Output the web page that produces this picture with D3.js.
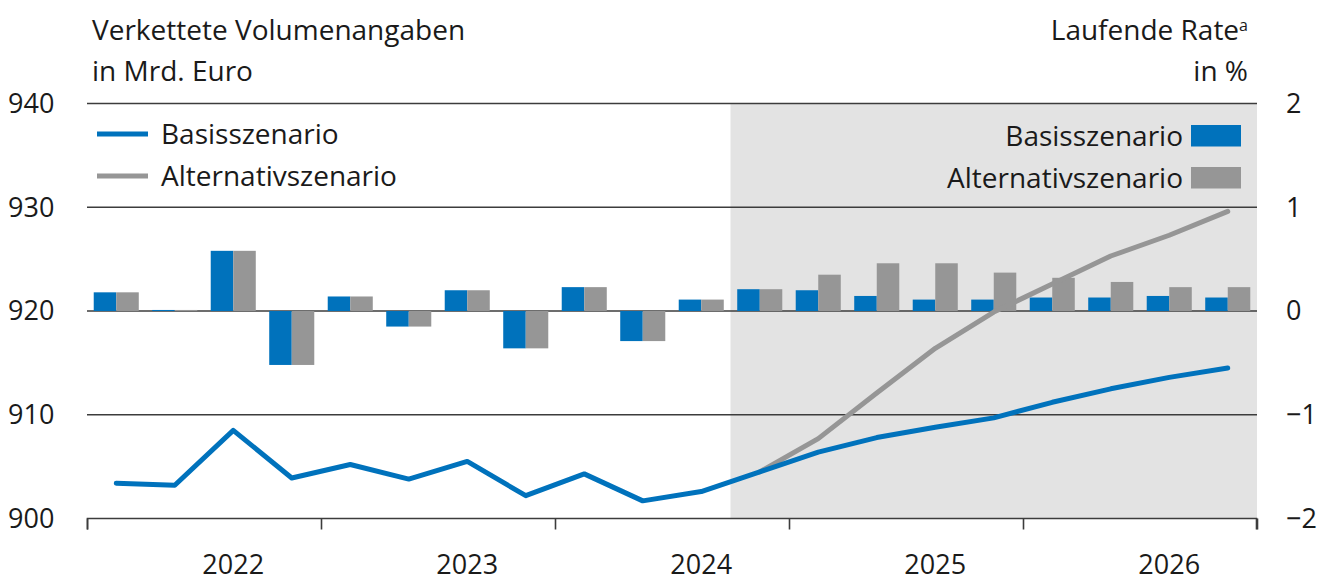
<!DOCTYPE html>
<html>
<head>
<meta charset="utf-8">
<script src="https://cdn.jsdelivr.net/npm/d3@7"></script>
<style>
  body { margin: 0; background: #fff; }
  text { font-family: "Open Sans", sans-serif; fill: #1a1a1a; }
</style>
</head>
<body>
<div id="chart"></div>
<script>
// data: quarters 2022Q1 .. 2026Q4
var quarters = ["2022Q1","2022Q2","2022Q3","2022Q4","2023Q1","2023Q2","2023Q3","2023Q4",
                "2024Q1","2024Q2","2024Q3","2024Q4","2025Q1","2025Q2","2025Q3","2025Q4",
                "2026Q1","2026Q2","2026Q3","2026Q4"];
var years = [2022, 2023, 2024, 2025, 2026];

// Laufende Rate in % (bars, right axis)
var rateBasis = [0.18, 0.01, 0.58, -0.52, 0.14, -0.15, 0.20, -0.36, 0.23, -0.29, 0.11,
                 0.21, 0.20, 0.145, 0.11, 0.11, 0.13, 0.13, 0.145, 0.13];
var rateAlt   = [0.18, 0.01, 0.58, -0.52, 0.14, -0.15, 0.20, -0.36, 0.23, -0.29, 0.11,
                 0.21, 0.35, 0.46, 0.46, 0.37, 0.32, 0.28, 0.23, 0.23];

// Verkettete Volumenangaben in Mrd. Euro (lines, left axis)
var volBasis = [903.4, 903.2, 908.5, 903.9, 905.2, 903.8, 905.5, 902.2, 904.3, 901.7, 902.6,
                904.5, 906.4, 907.8, 908.8, 909.7, 911.2, 912.5, 913.6, 914.5];
var volAlt   = [null, null, null, null, null, null, null, null, null, null, null,
                904.5, 907.7, 912.1, 916.4, 919.9, 922.6, 925.3, 927.3, 929.6];

var leftTicks = [900, 910, 920, 930, 940];
var rightTicks = [-2, -1, 0, 1, 2];
var forecastStart = "2024Q4";

var blue = "#0072bc", grey = "#969696";

var W = 1328, H = 580;
var m = {top: 103.5, right: 71, bottom: 61.5, left: 87};
var w = W - m.left - m.right, h = H - m.top - m.bottom;
var fs = "28px", tfs = "27px";

var svg = d3.select("#chart").append("svg")
    .attr("width", W)
    .attr("height", H);

var g = svg.append("g")
    .attr("transform", "translate(" + m.left + "," + m.top + ")");

var x = d3.scaleBand()
    .domain(quarters)
    .range([0, w])
    .paddingInner(0.23)
    .paddingOuter(0.115);

var xs = d3.scaleBand()
    .domain(["basis", "alt"])
    .range([0, x.bandwidth()]);

var xYear = d3.scaleLinear()
    .domain([2022, 2027])
    .range([0, w]);

var yL = d3.scaleLinear().domain([900, 940]).range([h, 0]);
var yR = d3.scaleLinear().domain([-2, 2]).range([h, 0]);

var cx = function(q) { return x(q) + x.bandwidth() / 2; };

// forecast shading
var shadeX = x(forecastStart) - x.step() * x.paddingInner() / 2;
g.append("rect")
    .attr("x", shadeX)
    .attr("y", 0)
    .attr("width", w - shadeX)
    .attr("height", h)
    .attr("fill", "#e3e3e3");

// gridlines
g.selectAll(".grid")
    .data(leftTicks.slice(1))
    .enter().append("line")
    .attr("x1", 0).attr("x2", w)
    .attr("y1", function(d) { return yL(d); })
    .attr("y2", function(d) { return yL(d); })
    .attr("stroke", "#3c3c3c")
    .attr("stroke-width", 1.6);

// bars
var rows = quarters.map(function(q, i) {
  return {q: q, basis: rateBasis[i], alt: rateAlt[i]};
});

var grp = g.selectAll(".bar")
    .data(rows)
    .enter().append("g")
    .attr("transform", function(d) { return "translate(" + x(d.q) + ",0)"; });

grp.selectAll("rect")
    .data(function(d) { return [{k: "basis", v: d.basis}, {k: "alt", v: d.alt}]; })
    .enter().append("rect")
    .attr("x", function(d) { return xs(d.k); })
    .attr("width", xs.bandwidth())
    .attr("y", function(d) { return yR(Math.max(0, d.v)); })
    .attr("height", function(d) { return Math.abs(yR(d.v) - yR(0)); })
    .attr("fill", function(d) { return d.k == "basis" ? blue : grey; });

// lines
var line = d3.line()
    .defined(function(d) { return d[1] != null; })
    .x(function(d) { return cx(d[0]); })
    .y(function(d) { return yL(d[1]); });

g.append("path")
    .datum(quarters.map(function(q, i) { return [q, volAlt[i]]; }))
    .attr("d", line)
    .attr("fill", "none")
    .attr("stroke", grey)
    .attr("stroke-width", 5)
    .attr("stroke-linejoin", "round")
    .attr("stroke-linecap", "round");

g.append("path")
    .datum(quarters.map(function(q, i) { return [q, volBasis[i]]; }))
    .attr("d", line)
    .attr("fill", "none")
    .attr("stroke", blue)
    .attr("stroke-width", 5)
    .attr("stroke-linejoin", "round")
    .attr("stroke-linecap", "round");

// x axis
var xAxis = g.append("g")
    .attr("transform", "translate(0," + h + ")")
    .call(d3.axisBottom(xYear)
      .tickValues([2022, 2023, 2024, 2025, 2026, 2027])
      .tickSize(11)
      .tickFormat(""));
xAxis.select(".domain").attr("stroke", "#3c3c3c").attr("stroke-width", 1.6)
    .attr("d", "M0.5,11V0H" + (w - 0.5) + "V11");
xAxis.selectAll(".tick line").attr("stroke", "#3c3c3c").attr("stroke-width", 1.6);

// year labels sit under the third quarter of each year span
g.selectAll(".year")
    .data(years)
    .enter().append("text")
    .attr("x", function(d) { return xYear(d + 0.625); })
    .attr("y", h + 55)
    .attr("text-anchor", "middle")
    .style("font-size", tfs)
    .text(function(d) { return d; });

// y tick labels
g.selectAll(".ytl")
    .data(leftTicks)
    .enter().append("text")
    .attr("x", -79)
    .attr("y", function(d) { return yL(d); })
    .attr("dy", "0.35em")
    .style("font-size", tfs)
    .text(function(d) { return d; });

g.selectAll(".ytr")
    .data(rightTicks)
    .enter().append("text")
    .attr("x", w + 29)
    .attr("y", function(d) { return yR(d); })
    .attr("dy", "0.35em")
    .style("font-size", tfs)
    .text(function(d) { return d < 0 ? "\u2212" + Math.abs(d) : d; });

// titles
svg.append("text").attr("x", 92).attr("y", 40).style("font-size", fs)
    .text("Verkettete Volumenangaben");
svg.append("text").attr("x", 92).attr("y", 81).style("font-size", fs)
    .text("in Mrd. Euro");

var rt = svg.append("text").attr("x", 1248).attr("y", 40).attr("text-anchor", "end")
    .style("font-size", fs);
rt.append("tspan").text("Laufende Rate");
rt.append("tspan").attr("dy", -9).style("font-size", "16px").text("a");
svg.append("text").attr("x", 1248).attr("y", 81).attr("text-anchor", "end")
    .style("font-size", fs).text("in %");

// left legend (lines)
var legL = [{label: "Basisszenario", c: blue}, {label: "Alternativszenario", c: grey}];
var ll = svg.selectAll(".legl")
    .data(legL)
    .enter().append("g")
    .attr("transform", function(d, i) { return "translate(97," + (134 + i * 42) + ")"; });
ll.append("line").attr("x1", 0).attr("x2", 51)
    .attr("stroke", function(d) { return d.c; }).attr("stroke-width", 5);
ll.append("text").attr("x", 64).attr("dy", "0.35em").style("font-size", fs)
    .text(function(d) { return d.label; });

// right legend (bars)
var lr = svg.selectAll(".legr")
    .data(legL)
    .enter().append("g")
    .attr("transform", function(d, i) { return "translate(1191," + (136 + i * 42) + ")"; });
lr.append("rect").attr("x", 0).attr("y", -11).attr("width", 50).attr("height", 21.5)
    .attr("fill", function(d) { return d.c; });
lr.append("text").attr("x", -8).attr("dy", "0.35em").attr("text-anchor", "end")
    .style("font-size", fs)
    .text(function(d) { return d.label; });
</script>
</body>
</html>
